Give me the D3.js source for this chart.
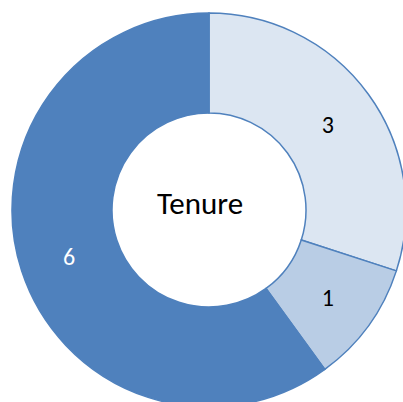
<!DOCTYPE html>
<html><head><meta charset="utf-8">
<script src="https://cdn.jsdelivr.net/npm/d3@7"></script>
<style>html,body{margin:0;padding:0;background:#fff;overflow:hidden}</style>
</head><body><svg id="c" width="403" height="402"></svg>
<script>
const categories = ["A", "B", "C"];
const values = [3, 1, 6];
const colors = ["#DCE6F2", "#B9CDE5", "#4F81BD"];
const labelColors = ["#000000", "#000000", "#FFFFFF"];
const centerTitle = "Tenure";

const svg = d3.select("#c");
const cx = 209, cy = 210, R = 197, r = 97;
const g = svg.append("g").attr("transform", `translate(${cx},${cy})`);
const pie = d3.pie().sort(null).value(d => d.v);
const data = pie(values.map((v, i) => ({v, i, c: categories[i]})));
const arc = d3.arc().innerRadius(r).outerRadius(R);
const labelArc = d3.arc().innerRadius(r).outerRadius(R);

g.selectAll("path").data(data).join("path")
  .attr("d", arc)
  .attr("fill", d => colors[d.data.i])
  .attr("stroke", "#4F81BD")
  .attr("stroke-width", 1.5);

g.selectAll("text.lbl").data(data).join("text")
  .attr("class", "lbl")
  .attr("transform", d => `translate(${labelArc.centroid(d)})`)
  .attr("text-anchor", "middle").attr("dy", "0.4em")
  .attr("font-family", "Carlito, 'Open Sans', 'Liberation Sans', sans-serif")
  .attr("font-size", 24)
  .attr("fill", d => labelColors[d.data.i])
  .text(d => d.data.v);

g.append("text").attr("x", -9).attr("y", 4)
  .attr("text-anchor", "middle")
  .attr("font-family", "Carlito, 'Open Sans', 'Liberation Sans', sans-serif")
  .attr("font-size", 31).attr("fill", "#000")
  .text(centerTitle);
</script></body></html>
